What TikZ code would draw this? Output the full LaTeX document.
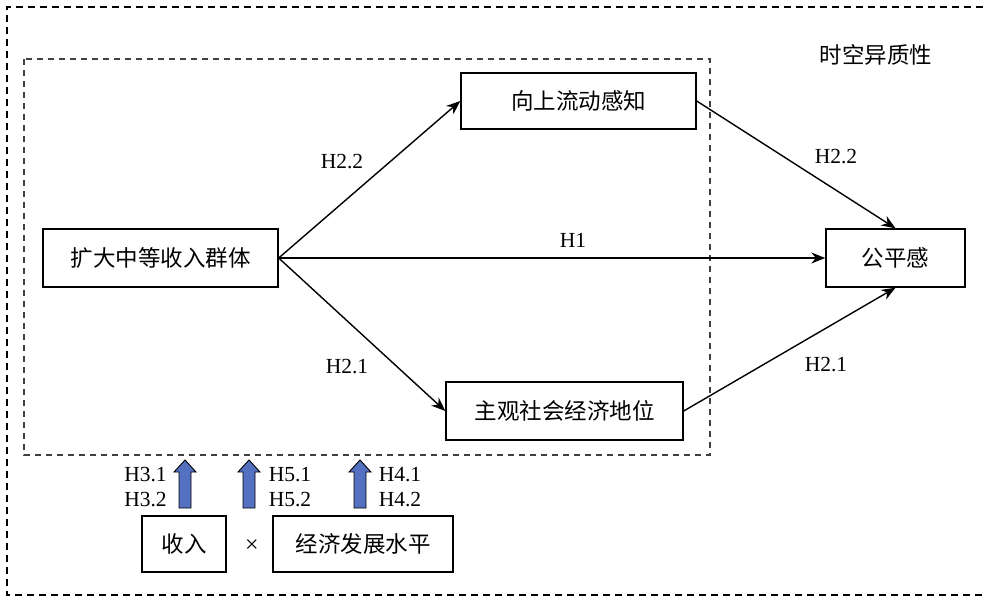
\documentclass[tikz,border=0pt]{standalone}
\usepackage{fontspec}
\setmainfont{Liberation Serif}
\newfontfamily\cjk{Noto Sans CJK SC}
\usetikzlibrary{arrows.meta}
\definecolor{blockblue}{RGB}{84,112,192}
\begin{document}
\begin{tikzpicture}[x=1pt,y=-1pt,
  box/.style={draw, line width=1.4pt, inner sep=0pt, font=\cjk\fontsize{22.5}{26}\selectfont},
  lbl/.style={font=\fontsize{21.5}{25}\selectfont, inner sep=0pt},
  cn/.style={font=\cjk\fontsize{22.5}{26}\selectfont, inner sep=0pt},
  conn/.style={line width=1.4pt, -{Stealth[length=14pt,width=11pt]}},
  blockarrow/.style={draw=black, line width=0.9pt, fill=blockblue}
]
\useasboundingbox (0,0) rectangle (984,597);
\clip (0,0) rectangle (984,597);
% outer dashed frame (right side outside picture)
\draw[line width=1.9pt, dash pattern=on 7pt off 5pt] (983,7) -- (7,7) -- (7,595) -- (983,595);
% inner dashed frame
\draw[line width=1.3pt, black!75, dash pattern=on 6pt off 5pt] (24,59) rectangle (710,455);

% main nodes
\node[box, minimum width=235pt, minimum height=58pt] (A) at (160.5,258) {扩大中等收入群体};
\node[box, minimum width=235pt, minimum height=56pt] (B) at (578.5,101) {向上流动感知};
\node[box, minimum width=237pt, minimum height=58pt] (C) at (564.5,411) {主观社会经济地位};
\node[box, minimum width=139pt, minimum height=58pt] (D) at (895.5,258) {公平感};

% connectors
\draw[conn] (A.east) -- (B.west);
\draw[conn] (A.east) -- (C.west);
\draw[conn] (A.east) -- (D.west);
\draw[conn] (B.east) -- (D.north);
\draw[conn] (C.east) -- (D.south);

% labels
\node[lbl] (l1) at (342,162) {H2.2};
\node[lbl] (l2) at (573,240) {H1};
\node[lbl] (l3) at (347,367) {H2.1};
\node[lbl] (l4) at (836,157) {H2.2};
\node[lbl] (l5) at (826,365) {H2.1};
\node[cn] (t) at (876,55) {时空异质性};

% moderator boxes
\node[box, minimum width=84pt, minimum height=56pt] (E) at (184,544) {收入};
\node[box, minimum width=180pt, minimum height=56pt] (F) at (363,544) {经济发展水平};
\node[font=\fontsize{24}{26}\selectfont, inner sep=0pt] (x) at (252,546) {×};

% hypothesis labels
\node[lbl, align=left] (h3) at (145.5,487.5) {H3.1\\H3.2};
\node[lbl, align=left] (h5) at (290,487.5) {H5.1\\H5.2};
\node[lbl, align=left] (h4) at (400,487.5) {H4.1\\H4.2};

% block arrows
\foreach \cx in {185,249,360}{
  \draw[blockarrow] (\cx-6,508) -- (\cx-6,472) -- (\cx-11,472) -- (\cx,460) -- (\cx+11,472) -- (\cx+6,472) -- (\cx+6,508) -- cycle;
}
\end{tikzpicture}
\end{document}
